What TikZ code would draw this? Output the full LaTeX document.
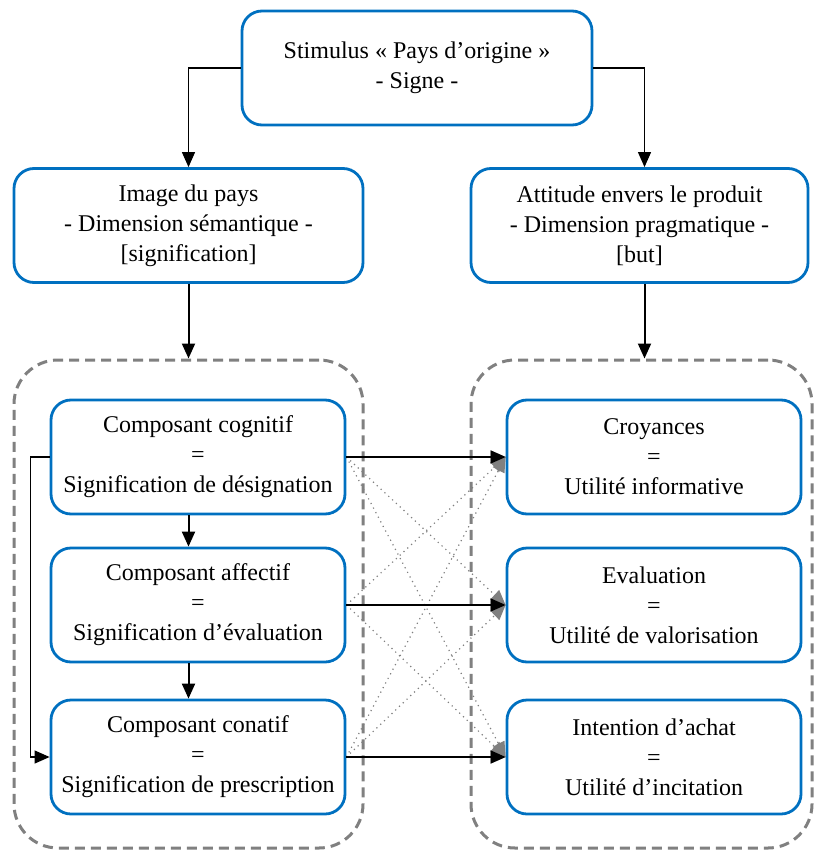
\documentclass[tikz,border=0pt]{standalone}
\usepackage{fontspec}
\setmainfont{Liberation Serif}
\usetikzlibrary{arrows.meta}
\definecolor{boxblue}{HTML}{0070C0}
\definecolor{groupgray}{HTML}{808080}

\begin{document}
\begin{tikzpicture}[x=0.5pt,y=-0.5pt]
\tikzset{box/.style={draw=boxblue,line width=1.4pt,rounded corners=10pt,align=center,
  minimum width=147pt,minimum height=57pt,inner sep=0pt,font=\fontsize{12}{15}\selectfont}}
\tikzset{group/.style={draw=groupgray,line width=1.5pt,dash pattern=on 5pt off 3pt,rounded corners=22pt}}
\tikzset{link/.style={-{Triangle[length=7.5pt,width=6.5pt]},line width=0.6pt}}
\tikzset{thicklink/.style={link,line width=1pt}}
\tikzset{cross/.style={-{Triangle[length=7.5pt,width=6.5pt]},groupgray,dotted,line width=0.6pt}}

\useasboundingbox (0,0) rectangle (813,850);

% groups
\node[group,minimum width=174.5pt,minimum height=244pt] (grpL) at (188.5,604) {};
\node[group,minimum width=170.5pt,minimum height=244pt] (grpR) at (641.5,604) {};

% top levels
\node[box,minimum width=175pt] (stim) at (417,68) {Stimulus « Pays d’origine »\\- Signe -};
\node[box,minimum width=174.5pt] (img) at (188.5,225.5) {Image du pays\\- Dimension sémantique -\\{[}signification{]}};
\node[box,minimum width=168.5pt] (att) at (639.5,225.5) {Attitude envers le produit\\- Dimension pragmatique -\\{[}but{]}};

% left column
\node[box] (cog) at (198,457) {Composant cognitif\\=\\Signification de désignation};
\node[box] (aff) at (198,605) {Composant affectif\\=\\Signification d’évaluation};
\node[box] (con) at (198,757) {Composant conatif\\=\\Signification de prescription};

% right column
\node[box] (cro) at (654,457) {Croyances\\=\\Utilité informative};
\node[box] (eva) at (654,605) {Evaluation\\=\\Utilité de valorisation};
\node[box] (int) at (654,757) {Intention d’achat\\=\\Utilité d’incitation};

\coordinate (attin) at ([xshift=2.5pt]att.north);
\coordinate (attout) at ([xshift=2.5pt]att.south);

\draw[link] (stim.west) -| (img.north);
\draw[link] (stim.east) -| (attin);
\draw[thicklink] (img.south) -- (grpL.north);
\draw[thicklink] (attout) -- (attout |- grpR.north);

\draw[thicklink] (cog.south -| img.south) -- (aff.north -| img.south);
\draw[thicklink] (aff.south -| img.south) -- (con.north -| img.south);
\draw[link] (cog.west) -- ++(-19,0) |- (con.west);

\foreach \a in {cog,aff,con}
  \foreach \b in {cro,eva,int}
    \draw[cross] (\a.east) -- (\b.west);
\draw[link] (cog.east) -- (cro.west);
\draw[link] (aff.east) -- (eva.west);
\draw[link] (con.east) -- (int.west);

\end{tikzpicture}
\end{document}
